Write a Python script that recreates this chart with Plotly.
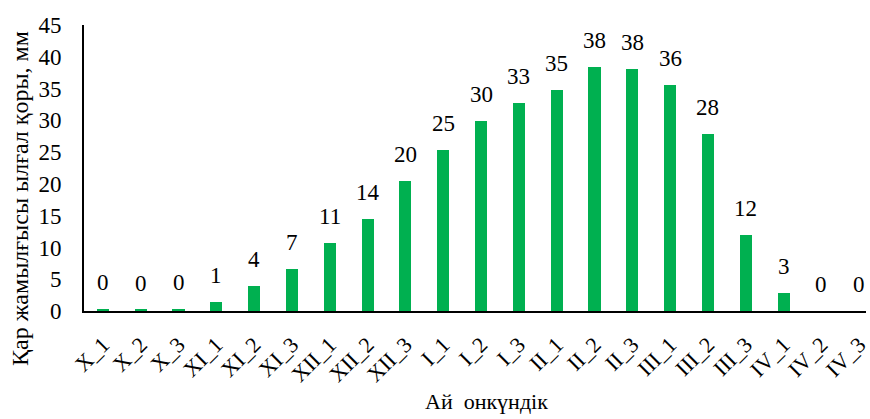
import plotly.graph_objects as go

# Decades (ten-day periods) from October to April
decades = ["X_1", "X_2", "X_3", "XI_1", "XI_2", "XI_3", "XII_1", "XII_2", "XII_3",
           "I_1", "I_2", "I_3", "II_1", "II_2", "II_3", "III_1", "III_2", "III_3",
           "IV_1", "IV_2", "IV_3"]
# Snow-cover water equivalent, mm
water_mm = [0.3, 0.2, 0.3, 1.4, 3.9, 6.6, 10.7, 14.4, 20.4,
            25.4, 29.9, 32.7, 34.8, 38.4, 38.1, 35.6, 27.9, 11.9,
            2.8, 0.0, 0.0]

FONT = "Liberation Serif"
GREEN = "#00B050"
SIZE = 23

fig = go.Figure()
fig.add_trace(go.Bar(
    x=decades, y=water_mm, width=0.32,
    marker=dict(color=GREEN, line=dict(width=0)),
    hoverinfo="x+y",
))

# value labels above each bar (rounded to whole millimetres)
for d, v in zip(decades, water_mm):
    fig.add_annotation(x=d, y=v, text=f"{v:.0f}", showarrow=False,
                       yanchor="bottom", yshift=12,
                       font=dict(family=FONT, size=SIZE, color="black"))

fig.add_annotation(xref="paper", yref="paper", x=0.515, y=-0.315,
                   text="Ай\u00a0 онкүндік", showarrow=False,
                   yanchor="middle", xanchor="center",
                   font=dict(family=FONT, size=22, color="black"))

fig.add_annotation(xref="paper", yref="paper", x=-0.082, y=0.395,
                   text="Қар жамылғысы ылғал қоры, мм", showarrow=False,
                   textangle=-90, xanchor="center", yanchor="middle",
                   font=dict(family=FONT, size=24, color="black"))

fig.update_layout(
    width=870, height=419,
    margin=dict(l=84, r=0, t=25, b=108),
    paper_bgcolor="white", plot_bgcolor="white",
    font=dict(family=FONT, size=SIZE, color="black"),
    showlegend=False,
    bargap=0,
    xaxis=dict(
        type="category", range=[-0.5, 20.18],
        showline=True, linecolor="black", linewidth=2,
        ticks="", tickangle=-45, showgrid=False,
        ticklabelstandoff=10,
        tickfont=dict(family=FONT, size=22, color="black"),
    ),
    yaxis=dict(
        range=[0, 45], dtick=5, tick0=0,
        showline=True, linecolor="black", linewidth=2,
        ticks="", showgrid=False, zeroline=False,
        ticklabelstandoff=16,
        tickfont=dict(family=FONT, size=SIZE, color="black"),
    ),
)

fig.write_html("out.html")
